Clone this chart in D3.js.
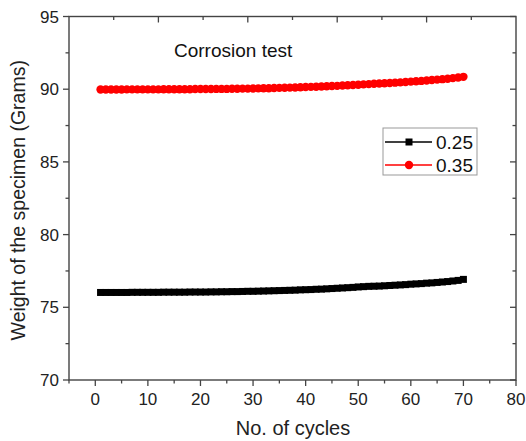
<!DOCTYPE html>
<html>
<head>
<meta charset="utf-8">
<script src="https://cdn.jsdelivr.net/npm/d3@7"></script>
<style>
body { margin: 0; background: white; }
text { font-family: "Liberation Sans", Arial, sans-serif; }
</style>
</head>
<body>
<script>
//chart data
var cycles = d3.range(1, 71);
var weight_025 = [76.02, 76.02, 76.02, 76.02, 76.02, 76.02, 76.03, 76.03, 76.03, 76.03,
	76.03, 76.03, 76.04, 76.04, 76.04, 76.04, 76.04, 76.05, 76.05, 76.05,
	76.05, 76.06, 76.06, 76.07, 76.07, 76.08, 76.08, 76.09, 76.10, 76.10,
	76.11, 76.12, 76.13, 76.14, 76.15, 76.16, 76.17, 76.18, 76.20, 76.21,
	76.22, 76.24, 76.25, 76.27, 76.29, 76.31, 76.33, 76.35, 76.37, 76.40,
	76.42, 76.44, 76.45, 76.46, 76.48, 76.50, 76.52, 76.54, 76.56, 76.59,
	76.61, 76.63, 76.66, 76.68, 76.71, 76.74, 76.77, 76.81, 76.85, 76.92];
var weight_035 = [89.98, 89.98, 89.98, 89.98, 89.98, 89.99, 89.99, 89.99, 89.99, 89.99,
	89.99, 89.99, 90.00, 90.00, 90.00, 90.00, 90.00, 90.00, 90.01, 90.01,
	90.01, 90.01, 90.02, 90.02, 90.02, 90.03, 90.03, 90.04, 90.04, 90.05,
	90.06, 90.07, 90.07, 90.08, 90.09, 90.10, 90.11, 90.12, 90.13, 90.15,
	90.16, 90.17, 90.19, 90.20, 90.22, 90.23, 90.25, 90.27, 90.29, 90.31,
	90.33, 90.35, 90.37, 90.39, 90.41, 90.43, 90.45, 90.47, 90.50, 90.52,
	90.55, 90.57, 90.60, 90.63, 90.66, 90.69, 90.72, 90.76, 90.80, 90.85];
var x_ticks = [0, 10, 20, 30, 40, 50, 60, 70, 80];
var x_minor = [-5, 5, 15, 25, 35, 45, 55, 65, 75];
var y_ticks = [70, 75, 80, 85, 90, 95];
var y_minor = [72.5, 77.5, 82.5, 87.5, 92.5];
var series_names = ["0.25", "0.35"];

var w = 526, h = 441,
	plot_l = 69, plot_r = 516, plot_t = 16.5, plot_b = 380,
	axis_col = "#444";

var svg = d3.select("body").append("svg")
	.attr("width", w)
	.attr("height", h);

var x = d3.scaleLinear().domain([-5, 80]).range([plot_l, plot_r]);
var y = d3.scaleLinear().domain([70, 95]).range([plot_b, plot_t]);
//top frame ticks don't line up with the bottom ones in the original
var x_top = d3.scaleLinear().domain([0, 5]).range([plot_l, plot_r]);

//frame
svg.append("rect")
	.attr("x", plot_l).attr("y", plot_t)
	.attr("width", plot_r - plot_l).attr("height", plot_b - plot_t)
	.attr("fill", "none")
	.attr("stroke", axis_col)
	.attr("stroke-width", 1.4);

var tick = function(x1, y1, x2, y2){
	svg.append("line")
		.attr("x1", x1).attr("y1", y1).attr("x2", x2).attr("y2", y2)
		.attr("stroke", axis_col)
		.attr("stroke-width", 1.3);
};

//bottom axis
x_ticks.forEach(function(d){
	tick(x(d), plot_b, x(d), plot_b + 6);
	svg.append("text")
		.attr("x", x(d)).attr("y", plot_b + 25)
		.attr("text-anchor", "middle")
		.style("font-size", "17px")
		.style("fill", "#222")
		.text(d);
});
x_minor.forEach(function(d){ tick(x(d), plot_b, x(d), plot_b + 3.5); });

//left axis, right frame gets inner ticks
y_ticks.forEach(function(d){
	tick(plot_l - 6, y(d), plot_l, y(d));
	tick(plot_r - 6, y(d), plot_r, y(d));
	svg.append("text")
		.attr("x", plot_l - 10).attr("y", y(d) + 6)
		.attr("text-anchor", "end")
		.style("font-size", "17px")
		.style("fill", "#222")
		.text(d);
});
y_minor.forEach(function(d){
	tick(plot_l - 3.5, y(d), plot_l, y(d));
	tick(plot_r - 3.5, y(d), plot_r, y(d));
});

//top frame ticks
[1, 2, 3, 4].forEach(function(d){ tick(x_top(d), plot_t, x_top(d), plot_t + 6); });
[0.5, 1.5, 2.5, 3.5, 4.5].forEach(function(d){ tick(x_top(d), plot_t, x_top(d), plot_t + 3.5); });

//axis titles
svg.append("text")
	.attr("x", 293).attr("y", 435)
	.attr("text-anchor", "middle")
	.style("font-size", "20px")
	.style("fill", "#222")
	.text("No. of cycles");

svg.append("text")
	.attr("transform", "translate(25," + ((plot_t + plot_b) / 2 + 2) + ") rotate(-90)")
	.attr("text-anchor", "middle")
	.style("font-size", "19.5px")
	.style("fill", "#222")
	.text("Weight of the specimen (Grams)");

svg.append("text")
	.attr("x", 174).attr("y", 57)
	.style("font-size", "19px")
	.style("fill", "#111")
	.text("Corrosion test");

//series
var line = d3.line()
	.x(function(d, i){ return x(cycles[i]); })
	.y(function(d){ return y(d); });

svg.append("path")
	.datum(weight_025)
	.attr("d", line)
	.attr("fill", "none")
	.attr("stroke", "black")
	.attr("stroke-width", 1.5);

svg.selectAll(".sq").data(weight_025).enter().append("rect")
	.attr("x", function(d, i){ return x(cycles[i]) - 3.5; })
	.attr("y", function(d){ return y(d) - 3.5; })
	.attr("width", 7).attr("height", 7)
	.attr("fill", "black");

svg.append("path")
	.datum(weight_035)
	.attr("d", line)
	.attr("fill", "none")
	.attr("stroke", "red")
	.attr("stroke-width", 1.5);

svg.selectAll(".dot").data(weight_035).enter().append("circle")
	.attr("cx", function(d, i){ return x(cycles[i]); })
	.attr("cy", function(d){ return y(d); })
	.attr("r", 4.2)
	.attr("fill", "red");

//legend
var lg = svg.append("g").attr("transform", "translate(383,128)");
lg.append("rect")
	.attr("width", 94).attr("height", 47)
	.attr("fill", "white")
	.attr("stroke", "#999")
	.attr("stroke-width", 1);

var colors = ["black", "red"];
series_names.forEach(function(name, i){
	var yy = 14 + i * 23;
	lg.append("line")
		.attr("x1", 2).attr("x2", 49).attr("y1", yy).attr("y2", yy)
		.attr("stroke", colors[i]).attr("stroke-width", 1.5);
	if (i == 0){
		lg.append("rect")
			.attr("x", 22.5).attr("y", yy - 3.5)
			.attr("width", 7).attr("height", 7)
			.attr("fill", "black");
	} else {
		lg.append("circle")
			.attr("cx", 26).attr("cy", yy).attr("r", 4.2)
			.attr("fill", "red");
	}
	lg.append("text")
		.attr("x", 53).attr("y", yy + 7)
		.style("font-size", "19px")
		.style("fill", "#111")
		.text(name);
});
</script>
</body>
</html>
